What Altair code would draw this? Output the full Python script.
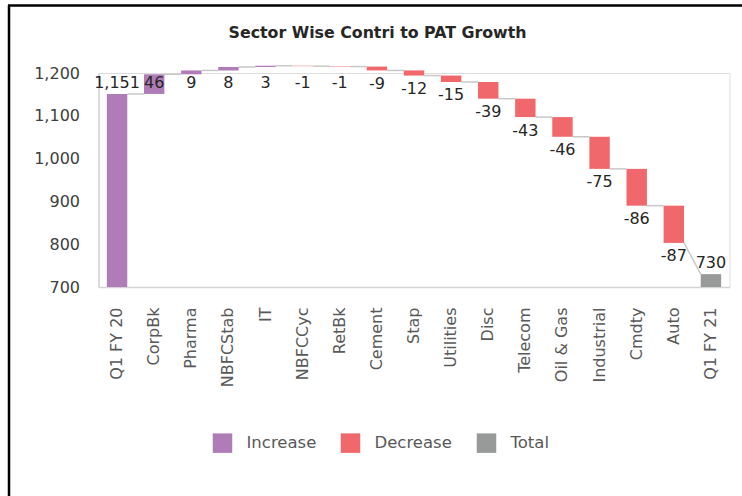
import altair as alt
import pandas as pd

# ---- data ----
categories = ["Q1 FY 20", "CorpBk", "Pharma", "NBFCStab", "IT", "NBFCCyc", "RetBk",
              "Cement", "Stap", "Utilities", "Disc", "Telecom", "Oil & Gas",
              "Industrial", "Cmdty", "Auto", "Q1 FY 21"]
values = [1151, 46, 9, 8, 3, -1, -1, -9, -12, -15, -39, -43, -46, -75, -86, -87, 730]
kinds = ["Increase", "Increase", "Increase", "Increase", "Increase",
         "Decrease", "Decrease", "Decrease", "Decrease", "Decrease", "Decrease",
         "Decrease", "Decrease", "Decrease", "Decrease", "Decrease", "Total"]
absolute = [True] + [False] * 15 + [True]
y_ticks = [700, 800, 900, 1000, 1100, 1200]
legend_order = ["Increase", "Decrease", "Total"]
legend_colors = ["#B07CB8", "#F0686B", "#989A9A"]
title_text = "Sector Wise Contri to PAT Growth"

axis_floor = y_ticks[0]

# ---- build waterfall table ----
rows = []
level = 0
for c, v, k, a in zip(categories, values, kinds, absolute):
    if a:
        start, end = axis_floor, v
        level = v
    else:
        start, end = level, level + v
        level = end
    rows.append({"cat": c, "value": v, "label": f"{v:,}", "kind": k,
                 "start": start, "end": end})
df = pd.DataFrame(rows)

conn = []
for i in range(len(rows) - 1):
    nxt = rows[i + 1]
    conn.append({"cat": rows[i]["cat"], "next": nxt["cat"], "y": rows[i]["end"],
                 "y2": nxt["end"] if absolute[i + 1] else nxt["start"]})
conn_df = pd.DataFrame(conn)

FONT = "DejaVu Sans"

x_scale = alt.Scale(domain=categories, paddingInner=0.45, paddingOuter=0.225)
y_scale = alt.Scale(domain=[y_ticks[0], y_ticks[-1]], nice=False, zero=False)

x_axis = alt.Axis(title=None, labelAngle=-90, labelPadding=20, ticks=False,
                  domainColor="#D4D4D4", domainWidth=1.5, labelFontSize=16,
                  labelFont=FONT, labelColor="#595959")
y_axis = alt.Axis(title=None, values=y_ticks, format=",d", ticks=False, grid=False,
                  domainColor="#D4D4D4", domainWidth=1.5, labelPadding=19,
                  labelFontSize=16, labelFont=FONT, labelColor="#404040")

connectors = alt.Chart(conn_df).mark_rule(color="#C8C8C8", strokeWidth=1.5).encode(
    x=alt.X("cat:N", scale=x_scale, axis=x_axis, sort=categories, bandPosition=1),
    x2=alt.X2("next:N", bandPosition=0),
    y=alt.Y("y:Q", scale=y_scale, axis=y_axis),
    y2="y2:Q",
)

bars = alt.Chart(df).mark_bar().encode(
    x=alt.X("cat:N", scale=x_scale, axis=x_axis, sort=categories),
    y=alt.Y("start:Q", scale=y_scale, axis=y_axis),
    y2="end:Q",
    color=alt.Color("kind:N",
                    scale=alt.Scale(domain=legend_order, range=legend_colors),
                    legend=alt.Legend(orient="none", legendX=114, legendY=360,
                                      direction="horizontal", title=None,
                                      symbolType="square", symbolSize=380,
                                      symbolStrokeWidth=0, labelFontSize=16.5,
                                      labelFont=FONT, labelColor="#595959",
                                      labelOffset=14, columnPadding=24, padding=0)),
)

label_up = alt.Chart(df).transform_filter(
    "datum.kind != 'Decrease'"
).transform_calculate(
    ly="min(datum.end, 1152)"
).mark_text(font=FONT, fontSize=16, color="#262626", dy=-11, baseline="middle").encode(
    x=alt.X("cat:N", scale=x_scale, sort=categories),
    y=alt.Y("ly:Q", scale=y_scale),
    text="label:N",
)

label_down = alt.Chart(df).transform_filter(
    "datum.kind == 'Decrease'"
).transform_calculate(
    ly="min(datum.end, 1208)"
).mark_text(font=FONT, fontSize=16, color="#262626", dy=13.5, baseline="middle").encode(
    x=alt.X("cat:N", scale=x_scale, sort=categories),
    y=alt.Y("ly:Q", scale=y_scale),
    text="label:N",
)

frame_df = pd.DataFrame({"t": [title_text]})
border_left = alt.Chart(frame_df).mark_rule(color="black", strokeWidth=2.5).encode(
    x=alt.value(-89.5), x2=alt.value(-89.5), y=alt.value(-67.5), y2=alt.value(430))
border_top = alt.Chart(frame_df).mark_rule(color="black", strokeWidth=2.5).encode(
    x=alt.value(-90.5), x2=alt.value(650), y=alt.value(-67.5), y2=alt.value(-67.5))
title_mark = alt.Chart(frame_df).mark_text(
    font=FONT, fontSize=15.8, fontWeight="bold", color="#262626",
    align="center", baseline="middle"
).encode(x=alt.value(279), y=alt.value(-40), text="t:N")

chart = alt.layer(
    connectors, bars, label_up, label_down, border_left, border_top, title_mark
).properties(
    width=631, height=214,
    autosize=alt.AutoSizeParams(type="none"),
    padding={"left": 98.5, "top": 73, "right": 12.5, "bottom": 209},
).configure_view(stroke=None).configure(background="white")

chart.save("out.html", embed_options={"renderer": "svg", "actions": False})
